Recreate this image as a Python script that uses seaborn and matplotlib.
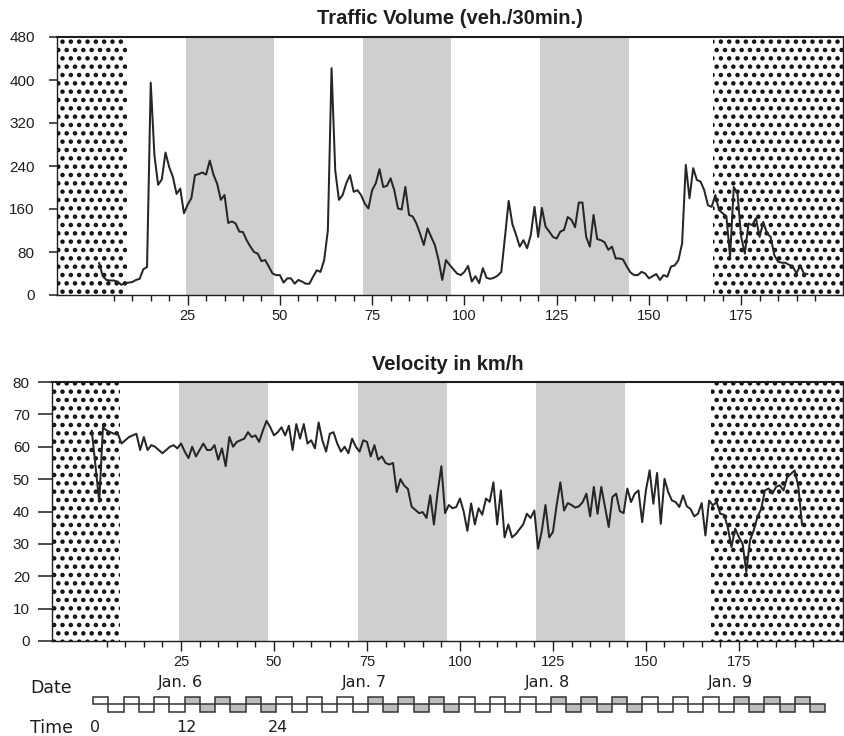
import numpy as np
import pandas as pd
import matplotlib
matplotlib.use("Agg")
import matplotlib.pyplot as plt
from matplotlib.ticker import FixedLocator
import seaborn as sns

# ---------------- data ----------------
traffic = [60, 35, 28, 27, 27, 25, 19, 22, 23, 24, 28, 30, 48, 52, 395, 260, 205, 215, 265, 238,
           220, 188, 198, 152, 168, 180, 223, 225, 228, 224, 250, 224, 207, 177, 186, 134, 137, 133, 118, 117,
           102, 90, 80, 77, 63, 65, 53, 40, 37, 37, 23, 31, 31, 21, 28, 25, 21, 21, 34, 46,
           43, 65, 120, 422, 232, 177, 186, 208, 223, 192, 195, 186, 170, 161, 195, 208, 234, 201, 203, 217,
           195, 161, 159, 201, 149, 146, 133, 114, 93, 124, 108, 93, 65, 28, 65, 56, 48, 40, 37, 43,
           54, 25, 35, 22, 50, 32, 30, 32, 36, 43, 108, 175, 132, 112, 90, 102, 87, 112, 164, 108,
           162, 127, 118, 108, 105, 118, 121, 145, 140, 126, 172, 172, 108, 90, 149, 104, 102, 98, 84, 90,
           68, 68, 66, 53, 42, 37, 37, 43, 40, 31, 35, 39, 28, 37, 34, 53, 55, 65, 96, 242,
           180, 236, 214, 211, 195, 167, 164, 186, 158, 152, 146, 71, 201, 189, 108, 77, 133, 130, 143, 108,
           136, 115, 108, 74, 62, 60, 60, 56, 53, 40, 55, 40, 39]

velocity = [65, 54, 43, 66, 65, 64.5, 64, 64, 61, 62, 63, 63.5, 64, 59, 63, 59, 60.5, 60, 59, 58,
            59, 60, 60.5, 59.5, 61, 58.5, 56.5, 60, 57, 59, 61, 59, 59, 60.5, 56, 59.5, 54, 63, 60, 61.5,
            62, 62.5, 64.5, 63, 63.5, 61.5, 65, 68, 66, 63.5, 64.5, 66, 63.5, 66.5, 59, 67, 62.5, 67, 61, 62,
            59.5, 67.5, 62, 58.5, 64, 64.5, 61, 58.5, 60, 58, 62.5, 60, 58.5, 62, 61.5, 57, 60.5, 56, 57, 55,
            54.5, 55, 46, 50, 48, 47, 41.5, 40.5, 39.5, 39.8, 38, 45, 36, 46, 54, 39.5, 42, 41, 41.4, 44,
            40, 34, 42.5, 36, 41, 39, 44, 43, 49, 36, 46.5, 32, 36, 32, 33, 34.5, 36, 39.3, 38, 40.3,
            28.5, 34, 42, 32, 33.7, 42, 49, 40.3, 42.6, 42, 41.2, 41.6, 42.9, 45.5, 38.5, 47.6, 39.3, 47.6, 41.4, 35.2,
            44.5, 45.5, 40.1, 39.5, 47.1, 42.9, 45.5, 46.5, 36.7, 46.5, 52.7, 42.4, 51.9, 36.2, 50.1, 46, 43.4, 42.9, 41.4, 45,
            41.6, 40.8, 38.5, 39.3, 42.6, 32.6, 43.4, 41.9, 42.9, 39.3, 39, 35.2, 29, 34.7, 32.1, 30, 21.3, 31.1, 34.2, 38.3,
            40.8, 46.5, 47.1, 45.5, 47.6, 48.1, 46.5, 50.6, 51.6, 52.7, 47.6, 35.7]

traffic_ticks = [0, 80, 160, 240, 320, 400, 480]
velocity_ticks = [0, 10, 20, 30, 40, 50, 60, 70, 80]
x_ticks = [25, 50, 75, 100, 125, 150, 175]
gray_bands = [(24.5, 48.5), (72.5, 96.5), (120.5, 144.5)]
dotted_start_end = 8.5
dotted_end_start = 167.5

dates = ["Jan. 6", "Jan. 7", "Jan. 8", "Jan. 9"]
date_hours = [12, 36, 60, 84]
time_labels = ["0", "12", "24"]
time_hours = [0, 12, 24]
shaded_hours = [(12, 24), (36, 48), (60, 72), (84, 96)]
block_hours = list(range(0, 96, 2))

# ---------------- style ----------------
sns.set_theme(style="white")
plt.rcParams["font.family"] = ["Liberation Sans", "DejaVu Sans"]
plt.rcParams["hatch.linewidth"] = 2.0

W, H = 845, 736
fig = plt.figure(figsize=(W / 100, H / 100), dpi=100)


def axes_px(l, t, r, b):
    return fig.add_axes([l / W, 1 - b / H, (r - l) / W, (b - t) / H])


ax1 = axes_px(57, 37, 843, 295)
ax2 = axes_px(52, 382, 843, 641)
ax3 = axes_px(52, 662, 843, 736)

line_col = "#262626"
band_col = "#cfcfcf"
text_col = "#1e1e1e"

df1 = pd.DataFrame({"idx": np.arange(1, len(traffic) + 1), "traffic": traffic})
df2 = pd.DataFrame({"idx": np.arange(1, len(velocity) + 1), "velocity": velocity})


def decorate(ax, xlim, ylen, ypad):
    ax.set_xlim(*xlim)
    for a, b in gray_bands:
        ax.axvspan(a, b, facecolor=band_col, edgecolor="none", zorder=0)
    ax.axvspan(xlim[0], dotted_start_end, facecolor="white", edgecolor="#111111",
               linewidth=0, hatch="..", zorder=0)
    ax.axvspan(dotted_end_start, xlim[1], facecolor="white", edgecolor="#111111",
               linewidth=0, hatch="..", zorder=0)
    ax.xaxis.set_major_locator(FixedLocator(x_ticks))
    ax.xaxis.set_minor_locator(FixedLocator([v for v in range(5, 200, 5) if v % 25]))
    ax.tick_params(axis="x", which="major", direction="out", length=7, width=1,
                   color=text_col, labelsize=10.5, labelcolor=text_col, pad=3, bottom=True)
    ax.tick_params(axis="x", which="minor", direction="out", length=4, width=1,
                   color=text_col, bottom=True)
    ax.tick_params(axis="y", which="major", direction="out", length=ylen, width=1.1,
                   color=text_col, labelsize=11, labelcolor=text_col, pad=ypad, left=True)
    for s in ax.spines.values():
        s.set_visible(True)
        s.set_color(text_col)
        s.set_linewidth(1.0)
    ax.spines["top"].set_linewidth(1.5)
    ax.set_xlabel("")
    ax.set_ylabel("")


sns.lineplot(data=df1, x="idx", y="traffic", ax=ax1, color=line_col, linewidth=1.45, zorder=3)
decorate(ax1, (-10.4, 202.6), 6, 10)
ax1.set_ylim(0, 480)
ax1.set_yticks(traffic_ticks)
ax1.set_title("Traffic Volume (veh./30min.)", fontsize=14.5, fontweight="bold",
              color=text_col, pad=9)

sns.lineplot(data=df2, x="idx", y="velocity", ax=ax2, color=line_col, linewidth=1.45, zorder=3)
decorate(ax2, (-9.7, 203.0), 10, 6)
ax2.set_ylim(0, 80)
ax2.set_yticks(velocity_ticks)
ax2.set_title("Velocity in km/h", fontsize=14.5, fontweight="bold", color=text_col, pad=9)

# ---------------- date / time strip ----------------
ax3.set_xlim(-5.4, 98.3)
ax3.set_ylim(0, 74)
ax3.axis("off")
up = [i % 2 == 0 for i in range(len(block_hours))]


def shaded(h):
    return any(a <= h < b for a, b in shaded_hours)


ax3.bar(block_hours, [7 if u else 8 for u in up], width=2, align="edge",
        bottom=[32 if u else 24 for u in up],
        color=["#bdbdbd" if shaded(h) else "white" for h in block_hours],
        edgecolor="#333333", linewidth=1.1)
for d, h in zip(dates, date_hours):
    ax3.text(h - 0.5, 53, d, ha="center", va="center", fontsize=11.5,
             family=["DejaVu Sans"], color=text_col)
for t, h in zip(time_labels, time_hours):
    ax3.text(h + 0.2, 8, t, ha="center", va="center", fontsize=11.5,
             family=["DejaVu Sans"], color=text_col)
fig.text(30 / W, 1 - 688 / H, "Date", ha="left", va="center", fontsize=12.5,
         family=["DejaVu Sans"], color=text_col)
fig.text(30 / W, 1 - 728 / H, "Time", ha="left", va="center", fontsize=12.5,
         family=["DejaVu Sans"], color=text_col)

fig.savefig("out.png", dpi=100)
